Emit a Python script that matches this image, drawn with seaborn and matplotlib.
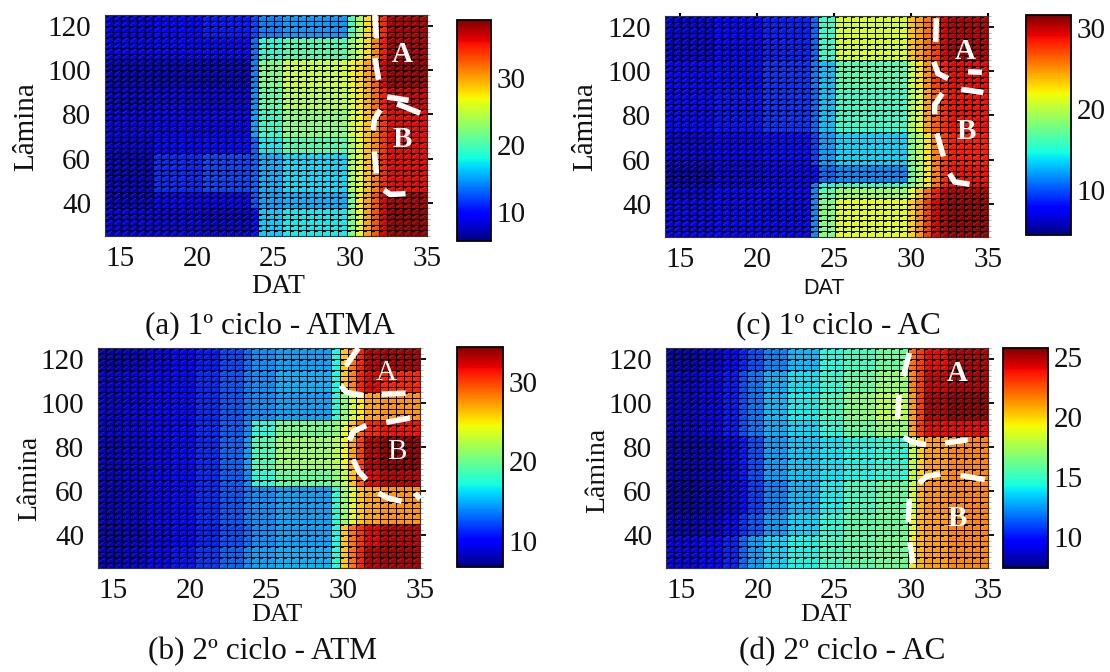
import numpy as np
import pandas as pd
import matplotlib
matplotlib.use("Agg")
import matplotlib.pyplot as plt
import seaborn as sns
from matplotlib.collections import LineCollection, PolyCollection

# eixos comuns
dat_edges = np.linspace(14, 35, 41)
lamina_edges = np.linspace(125, 25, 41)
dat_ticks = [15, 20, 25, 30, 35]
lamina_ticks = [120, 100, 80, 60, 40]

# (a) 1o ciclo - ATMA: larguras das faixas em celulas e valores lidos
a_cols = [6, 6, 6, 1, 3, 8, 1, 1, 1, 1, 1, 5]
a_rows = [4, 4, 5, 4, 5, 3, 7, 3, 5]
a_vals = [
    [8.5, 9.5, 10.5, 12, 14, 14.8, 20, 24, 28, 31, 34.5, 37.5],
    [9, 9.5, 10, 13.5, 18.5, 20, 23, 25.5, 28, 31, 35, 37.5],
    [7.5, 7.5, 7.5, 14, 22, 25.5, 27, 28, 30, 32.5, 36, 38],
    [8, 8.5, 8.5, 14.5, 20.5, 24.5, 26, 27.5, 29.5, 32, 35, 36.5],
    [8.5, 9, 9, 15, 19, 22.5, 25.5, 27, 29, 31, 34, 35.5],
    [8, 9.5, 10, 13, 17.5, 20, 24, 26.5, 29, 31, 34, 35.5],
    [7.5, 11, 12, 13, 15.5, 17, 24, 26.5, 29, 31.5, 34.5, 35.5],
    [7.5, 9, 9, 12.5, 15, 15.5, 21.5, 27.5, 30, 33, 36, 37.5],
    [8.5, 8.5, 8, 10, 16.5, 17.5, 22, 26.5, 30, 33, 36, 38],
]

# (c) 1o ciclo - AC
c_cols = [6, 6, 6, 1, 2, 9, 1, 1, 1, 1, 1, 5]
c_rows = [8, 5, 8, 6, 3, 1, 2, 7]
c_vals = [
    [6.5, 7.5, 8.5, 10.5, 15.5, 21, 23.5, 24.5, 26, 27.5, 29.5, 30.5],
    [7.5, 8, 9, 11, 13, 16.5, 20.5, 22.5, 25, 27.5, 28.5, 29],
    [7.5, 8.2, 9, 10.5, 13, 15.5, 19.5, 21.5, 24.5, 26.5, 28, 28.8],
    [6.5, 7, 8, 9.5, 12, 13.5, 18, 20, 22.5, 25.5, 27.5, 28.5],
    [5.5, 6.5, 7, 8, 10.5, 11.5, 17, 19.5, 22.5, 25.5, 28, 28.8],
    [6, 6.8, 7.5, 11, 14.5, 15.5, 18, 20, 22.5, 26, 28.3, 29],
    [6.5, 7.5, 7.5, 11.5, 16.5, 19, 21.5, 23.5, 26, 28.5, 30, 30.5],
    [7, 7.5, 7.2, 11.5, 18, 21.5, 23, 25, 27.5, 29.5, 30.5, 31],
]

# (b) 2o ciclo - ATM
b_cols = [3, 3, 3, 3, 3, 3, 1, 3, 7, 1, 1, 1, 1, 2, 5]
b_rows = [4, 4, 5, 3, 6, 3, 7, 4, 4]
b_vals = [
    [7.8, 8.3, 9, 9.8, 10.8, 12, 13, 14, 14.5, 17, 26, 28.5, 31, 33, 33.5],
    [8.6, 9, 9.6, 10.3, 11.2, 12.4, 13.5, 14, 15, 17, 26, 28, 31, 32, 31],
    [8.6, 9, 9.6, 10.3, 11.2, 12.4, 13.5, 14, 14.5, 17.5, 21, 23.5, 25, 27, 27.5],
    [8.6, 9, 9.6, 10.3, 11.2, 12.6, 14, 17.5, 20, 21, 24, 26, 29, 31, 31.5],
    [8.2, 8.7, 9.4, 10.3, 11.2, 12.8, 14.5, 18.5, 21.5, 22.5, 24.5, 27, 30, 33, 34],
    [8.2, 8.7, 9.4, 10.3, 11.2, 12.6, 14, 17.5, 19.5, 21, 23, 26, 29, 32, 33],
    [8, 8.6, 9.4, 10.3, 11.2, 12.4, 13.5, 14, 14.5, 17.5, 21.5, 24, 26, 27, 27.5],
    [7.8, 8.3, 9, 10, 11, 12.2, 13, 14, 14.5, 17, 26, 28.5, 30.5, 32, 33],
    [8, 8.6, 9.4, 10.5, 11.5, 12.8, 14, 14.5, 15, 17.5, 26, 28.5, 31, 33, 33.5],
]

# (d) 2o ciclo - AC
d_cols = [4, 3, 2, 1, 2, 3, 4, 3, 4, 4, 1, 1, 3, 5]
d_rows = [4, 4, 5, 3, 8, 6, 4, 6]
d_vals = [
    [8, 8.6, 9.3, 10.2, 11, 12, 13, 14.3, 15, 16, 22, 23, 24, 25],
    [8.5, 9, 10, 11, 11.8, 12.8, 13.8, 14.6, 15.8, 17, 21.5, 23, 24.5, 25],
    [8.5, 9, 10, 11, 11.8, 13, 14, 15, 16.7, 18, 21, 23, 25, 25.5],
    [8.5, 9, 10, 11, 11.8, 12.8, 13.6, 14.5, 15.8, 17, 21, 23, 24, 24],
    [8, 8.4, 9, 10, 11, 12.5, 13.3, 13.8, 14.2, 14.5, 18, 20, 21, 21.5],
    [7.8, 8.2, 8.8, 9.8, 10.7, 12, 13, 14, 15, 15.8, 18.5, 20.5, 21.2, 21.5],
    [8.2, 8.6, 9.4, 10.5, 11.2, 12.5, 13.5, 14.5, 15.5, 16, 19, 20.5, 21, 21.5],
    [9, 9.5, 10.2, 11.5, 12.5, 13.5, 14.2, 15, 15.7, 16.2, 19.5, 20.5, 21, 21.5],
]

# limites das zonas A e B (tracos brancos), em (DAT, lamina)
a_dashes = [
    [(31.6, 125), (31.7, 114.5)], [(31.6, 105.5), (31.85, 95.7)],
    [(32.4, 87.9), (33.8, 86.4)], [(33.05, 84.8), (34.55, 80.6)],
    [(31.95, 82.1), (31.56, 77.6), (31.5, 72.8)], [(31.56, 63.3), (31.7, 53.3)],
    [(32.2, 45.8), (32.6, 43.8), (33.6, 44.2)],
]
c_dashes = [
    [(31.64, 124), (31.6, 113.2)], [(31.47, 104.3), (31.75, 99), (32.4, 96.7)],
    [(33.7, 99.8), (34.6, 99.5)], [(33.26, 91.8), (34.7, 90.4)],
    [(32.03, 90), (31.53, 84.7), (31.53, 80.6)], [(31.68, 71.8), (32.1, 61.5)],
    [(32.5, 53.7), (32.83, 49.9), (33.8, 48.9)],
]
b_dashes = [
    [(30.98, 125), (30.15, 116.7)], [(29.84, 107.9), (30.2, 104.8), (31.3, 103.5)],
    [(32.5, 104), (34.06, 104.5)], [(32.8, 91.2), (34.35, 93.2)],
    [(31.5, 89.8), (30.65, 87.1), (30.4, 83)], [(30.65, 74.2), (31, 68.9), (31.5, 65.2)],
    [(32.3, 59.1), (32.9, 56.8), (33.8, 55.3)], [(34.67, 59.1), (35, 56.4)],
]
d_dashes = [
    [(29.87, 122.7), (29.48, 112.1)], [(29.2, 103.8), (29.1, 92.7)],
    [(29.5, 84.5), (30.04, 82.3), (30.96, 81.1)], [(32.2, 81.8), (33.7, 83.3)],
    [(30.5, 63.6), (31, 66.7), (31.9, 67.7)], [(33.2, 67.1), (34.8, 65.2)],
    [(29.87, 56.4), (29.8, 45.8)], [(29.9, 36.8), (30.1, 27)],
]

W, H = 1110, 672
SERIF = "Liberation Serif"

sns.set_theme(style="white")
plt.rcParams["font.family"] = [SERIF, "DejaVu Sans"]

fig = plt.figure(figsize=(W / 100, H / 100), dpi=100)


def px_axes(left, top, right, bottom):
    return fig.add_axes([left / W, 1 - bottom / H, (right - left) / W, (bottom - top) / H])


def px_text(x, y, s, **kw):
    fig.text(x / W, 1 - y / H, s, ha="center", va="center", color="#111111", **kw)


def to_cell(dat, lam):
    return (dat - 14) / 21 * 40, (125 - lam) / 100 * 40


def draw_panel(box, cbox, cols, rows, vals, vmin, vmax, cticks, dashes, a_pos, b_pos, bold=True, top_ticks=False):
    ax = px_axes(*box)
    cax = px_axes(*cbox)
    grid = np.repeat(np.repeat(np.array(vals), rows, axis=0), cols, axis=1)
    df = pd.DataFrame(grid, index=lamina_edges[:-1], columns=dat_edges[:-1])
    sns.heatmap(df, ax=ax, cbar_ax=cax, cmap="jet", vmin=vmin, vmax=vmax,
                linewidths=0.5, linecolor="black", xticklabels=False, yticklabels=False)

    # textura da malha: canto escuro e diagonal clara em cada celula
    ii, jj = np.meshgrid(np.arange(40), np.arange(40))
    ii, jj = ii.ravel(), jj.ravel()
    notches = [[(i, j), (i + 0.5, j), (i + 0.5, j + 0.34), (i, j + 0.34)] for i, j in zip(ii, jj)]
    ax.add_collection(PolyCollection(notches, facecolors="black", edgecolors="none", alpha=0.9))
    diag = [[(i + 0.12, j + 0.9), (i + 0.88, j + 0.12)] for i, j in zip(ii, jj)]
    ax.add_collection(LineCollection(diag, colors="white", linewidths=0.5, alpha=0.16))

    xt = [to_cell(d, 125)[0] for d in dat_ticks]
    yt = [to_cell(14, l)[1] for l in lamina_ticks]
    ax.set_xticks(xt, [str(d) for d in dat_ticks])
    ax.set_yticks(yt, [str(l) for l in lamina_ticks], rotation=0)
    ax.set_yticks(np.arange(41), minor=True)
    ax.tick_params(axis="x", which="major", bottom=False, top=top_ticks, length=2, width=1.5,
                   labelsize=21, pad=5, labelcolor="#111111", color="black")
    ax.tick_params(axis="y", which="major", left=False, right=True, length=4, width=1.3,
                   labelsize=21, pad=6, labelcolor="#111111", color="black")
    ax.tick_params(axis="y", which="minor", left=False, right=True, length=2.5, width=0.8, color="#bbbbbb")
    ax.set_xlabel("")
    ax.set_ylabel("")
    for s in ax.spines.values():
        s.set_visible(True)
        s.set_color("#333333")
        s.set_linewidth(0.8)

    for seg in dashes:
        pts = np.array([to_cell(d, l) for d, l in seg])
        ax.plot(pts[:, 0], pts[:, 1], color="white", lw=4, solid_capstyle="butt",
                solid_joinstyle="round", clip_on=False, zorder=5)
    for label, pos in (("A", a_pos), ("B", b_pos)):
        x, y = to_cell(*pos)
        ax.text(x, y, label, color="white", fontsize=21, ha="center", va="center",
                fontweight="bold" if bold else "normal", zorder=6)

    cbar = ax.collections[0].colorbar
    cbar.set_ticks(cticks)
    cbar.ax.tick_params(direction="in", left=True, right=True, length=3.5, width=1.5,
                        labelsize=21, pad=4, labelcolor="#111111", color="black")
    cbar.outline.set_visible(True)
    cbar.outline.set_edgecolor("black")
    cbar.outline.set_linewidth(1.3)
    return ax


draw_panel((105, 15, 427, 236), (457, 20, 491, 241), a_cols, a_rows, a_vals, 5.7, 38.7, [10, 20, 30],
           a_dashes, (33.4, 107), (33.4, 68.6))
draw_panel((665, 16, 988, 237), (1026, 15, 1071, 235), c_cols, c_rows, c_vals, 4.4, 31.6, [10, 20, 30],
           c_dashes, (33.5, 108.8), (33.6, 72.6), top_ticks=True)
draw_panel((98, 348, 420, 568), (457, 347, 503, 567), b_cols, b_rows, b_vals, 6.7, 34.4, [10, 20, 30],
           b_dashes, (32.8, 113.6), (33.5, 77.6), bold=False)
draw_panel((666, 348, 988, 568), (1003, 348, 1048, 568), d_cols, d_rows, d_vals, 7.4, 25.75, [10, 15, 20, 25],
           d_dashes, (33, 113.3), (33, 47.4))

# rotulos de eixos e legendas
px_text(278, 287, "DAT", fontsize=20)
px_text(824, 288, "DAT", fontsize=15.5, family="Liberation Sans")
px_text(277, 615, "DAT", fontsize=19)
px_text(826, 615, "DAT", fontsize=19)
px_text(26, 127, "Lâmina", fontsize=21, rotation=90)
px_text(585, 127, "Lâmina", fontsize=21, rotation=90)
px_text(30, 478, "Lâmina", fontsize=20, rotation=90)
px_text(598, 470, "Lâmina", fontsize=20, rotation=90)
px_text(270, 326, "(a) 1º ciclo - ATMA", fontsize=22.5)
px_text(838, 326, "(c) 1º ciclo - AC", fontsize=22.5)
px_text(262, 652, "(b) 2º ciclo - ATM", fontsize=22.5)
px_text(842, 652, "(d) 2º ciclo - AC", fontsize=22.5)

fig.savefig("out.png", dpi=100)
